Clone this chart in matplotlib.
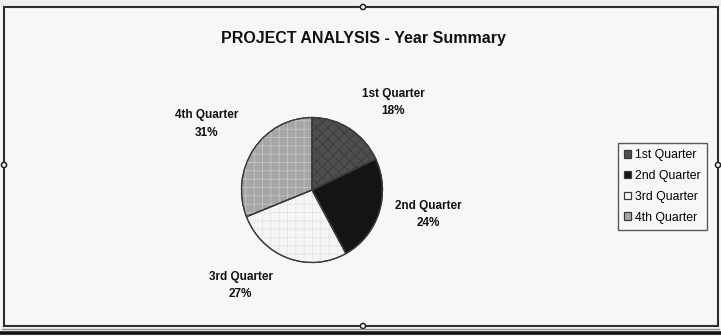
import matplotlib
matplotlib.use("Agg")
import matplotlib.pyplot as plt
from matplotlib.patches import Rectangle, Circle, Wedge

# Chart data
quarters = ["1st Quarter", "2nd Quarter", "3rd Quarter", "4th Quarter"]
shares = [18, 24, 27, 31]

# Styling
face_colors = ["#4e4e4e", "#141414", "#f6f6f6", "#a6a6a6"]
hatch_colors = ["#3c3c3c", "#141414", "#e6e6e6", "#c4c4c4"]
hatches = ["xxx", None, "++", "++"]
# label anchor positions in pie units (x radius, y radius)
label_xy = [(1.15, 1.21), (1.65, -0.34), (-1.01, -1.32), (-1.49, 0.91)]

plt.rcParams["font.family"] = ["Liberation Sans Narrow", "Liberation Sans", "DejaVu Sans"]
plt.rcParams["hatch.linewidth"] = 0.6

W, H = 721, 336
fig = plt.figure(figsize=(W / 100, H / 100), dpi=100)
fig.patch.set_facecolor("#f7f7f7")

# Frame / window decoration in pixel coordinates
frame = fig.add_axes([0, 0, 1, 1])
frame.set_xlim(0, W)
frame.set_ylim(H, 0)
frame.axis("off")
frame.add_patch(Rectangle((0, 0), W, 6, color="#efefef", lw=0))
frame.add_patch(Rectangle((4, 7), 714, 319, fill=False, edgecolor="#2e2e2e", lw=1.5))
frame.plot([2, 719], [328.5, 328.5], color="#8a8a8a", lw=1.0)
frame.plot([0, W], [333, 333], color="#111111", lw=2.6)
for hx, hy in [(363, 7), (4, 165), (718, 165), (363, 326)]:
    frame.add_patch(Circle((hx, hy), 2.6, facecolor="#f7f7f7", edgecolor="#222222", lw=1.1))

# Title
frame.text(363, 38, "PROJECT ANALYSIS - Year Summary", ha="center", va="center",
           fontsize=11.5, fontweight="bold", color="#111111",
           family=["Liberation Sans", "DejaVu Sans"])

# Pie axes: centre at (312, 190) px, radius ~70.5 x 72.5 px
cx, cy = 312, 190
rx, ry = 70.5, 72.5
xl, yl = 2.3, 1.85
ax = fig.add_axes([(cx - xl * rx) / W, (H - cy - yl * ry) / H,
                   2 * xl * rx / W, 2 * yl * ry / H])
ax.patch.set_alpha(0)
wedges, _ = ax.pie(shares, startangle=90, counterclock=False, colors=face_colors,
                   wedgeprops=dict(edgecolor="#3a3a3a", linewidth=0.9))
# texture overlays on the wedges
for w, hc, hp in zip(wedges, hatch_colors, hatches):
    if hp:
        ov = Wedge(w.center, w.r, w.theta1, w.theta2, facecolor="none",
                   edgecolor=hc, hatch=hp, lw=0)
        ax.add_patch(ov)
for w in wedges:
    ov = Wedge(w.center, w.r, w.theta1, w.theta2, facecolor="none",
               edgecolor="#3a3a3a", lw=0.9)
    ax.add_patch(ov)
ax.set_aspect("auto")
ax.set_xlim(-xl, xl)
ax.set_ylim(-yl, yl)
ax.axis("off")

for (lx, ly), q, s in zip(label_xy, quarters, shares):
    ax.text(lx, ly, f"{q}\n{s}%", ha="center", va="center", fontsize=8.5,
            fontweight="bold", linespacing=1.6, color="#111111")

# Legend
leg = fig.legend(wedges, quarters, loc="upper left",
                 bbox_to_anchor=(618 / W, 1 - 143 / H),
                 prop=dict(family=["Liberation Sans", "DejaVu Sans"], size=8.8),
                 frameon=True, fancybox=False, edgecolor="#333333",
                 handlelength=0.6, handleheight=0.6, handletextpad=0.3,
                 labelspacing=0.72, borderpad=0.5, borderaxespad=0)
leg.get_frame().set_linewidth(1.0)
leg.get_frame().set_facecolor("#f7f7f7")

fig.savefig("out.png", dpi=100, facecolor=fig.get_facecolor())
